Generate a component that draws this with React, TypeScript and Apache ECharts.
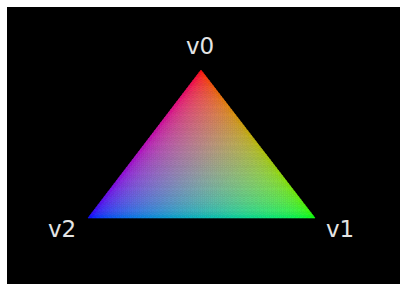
import React, { useEffect, useRef } from "react";
import * as echarts from "echarts";

// Vertex data (image-space units: x to the right, y downward)
const vertexNames = ["v0", "v1", "v2"];
const vertexX = [201, 315, 88];
const vertexY = [70, 218, 218];
const vertexColors: [number, number, number][] = [
  [1, 0, 0],
  [0, 1, 0],
  [0, 0, 1],
];

// label offsets (px) from each vertex
const labelOffsets: [number, number][] = [
  [-1, -24],
  [25, 11],
  [-26, 11],
];

const SUBDIV = 56;

function toSrgb(v: number): number {
  const c = Math.max(0, Math.min(1, v));
  const s = c <= 0.0031308 ? 12.92 * c : 1.055 * Math.pow(c, 1 / 2.4) - 0.055;
  return Math.round(s * 255);
}

function mixColor(w0: number, w1: number, w2: number): string {
  const r = w0 * vertexColors[0][0] + w1 * vertexColors[1][0] + w2 * vertexColors[2][0];
  const g = w0 * vertexColors[0][1] + w1 * vertexColors[1][1] + w2 * vertexColors[2][1];
  const b = w0 * vertexColors[0][2] + w1 * vertexColors[1][2] + w2 * vertexColors[2][2];
  return `rgb(${toSrgb(r)},${toSrgb(g)},${toSrgb(b)})`;
}

export default function App() {
  const ref = useRef<HTMLDivElement>(null);
  useEffect(() => {
    document.body.style.margin = "0";
    if (!ref.current) return;
    const chart = echarts.init(ref.current, null, { renderer: "svg" });
    const data = vertexNames.map((n, i) => ({ name: n, value: [vertexX[i], vertexY[i]] }));

    const renderItem = (params: any, api: any) => {
      const idx = params.dataIndex;
      const children: any[] = [];
      if (idx === 0) {
        const p = vertexNames.map((_, i) => api.coord([vertexX[i], vertexY[i]]));
        const N = SUBDIV;
        const pt = (i: number, j: number) => {
          const a = i / N;
          const b = j / N;
          return [
            p[0][0] + a * (p[1][0] - p[0][0]) + b * (p[2][0] - p[0][0]),
            p[0][1] + a * (p[1][1] - p[0][1]) + b * (p[2][1] - p[0][1]),
          ];
        };
        const tri = (pts: number[][], w1: number, w2: number) => {
          const w0 = 1 - w1 - w2;
          const col = mixColor(w0, w1, w2);
          children.push({
            type: "polygon",
            shape: { points: pts },
            style: { fill: col, stroke: col, lineWidth: 0.6 },
            silent: true,
          });
        };
        for (let i = 0; i < N; i++) {
          for (let j = 0; i + j < N; j++) {
            tri([pt(i, j), pt(i + 1, j), pt(i, j + 1)], (i + 1 / 3) / N, (j + 1 / 3) / N);
            if (i + j <= N - 2) {
              tri([pt(i + 1, j), pt(i + 1, j + 1), pt(i, j + 1)], (i + 2 / 3) / N, (j + 2 / 3) / N);
            }
          }
        }
      }
      const c = api.coord([api.value(0), api.value(1)]);
      children.push({
        type: "text",
        x: c[0] + labelOffsets[idx][0],
        y: c[1] + labelOffsets[idx][1],
        style: {
          text: vertexNames[idx],
          fill: "#e4e4e4",
          font: "23px 'DejaVu Sans'",
          align: "center",
          verticalAlign: "middle",
        },
        z2: 10,
      });
      return { type: "group", children };
    };

    chart.setOption({
      animation: false,
      backgroundColor: "#ffffff",
      grid: {
        left: 7,
        top: 7,
        right: 1,
        bottom: 0,
        show: true,
        backgroundColor: "#000000",
        borderWidth: 0,
      },
      xAxis: { type: "value", min: 7, max: 400, show: false },
      yAxis: { type: "value", min: 7, max: 284, inverse: true, show: false },
      series: [
        {
          type: "custom",
          renderItem,
          data,
          clip: false,
        },
      ],
    });
    return () => chart.dispose();
  }, []);
  return <div ref={ref} style={{ width: 401, height: 284 }} />;
}
